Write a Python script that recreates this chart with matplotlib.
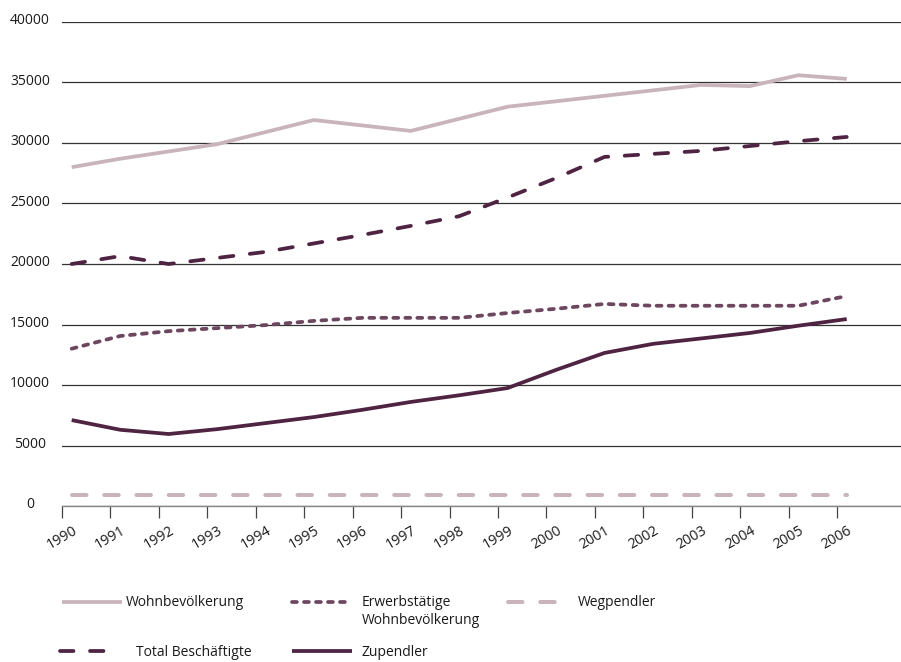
import matplotlib
matplotlib.use("Agg")
import matplotlib.pyplot as plt
from matplotlib.transforms import ScaledTranslation
import numpy as np

plt.rcParams['font.family'] = ['Open Sans', 'DejaVu Sans']

years = [str(y) for y in range(1990, 2007)]

wohnbevoelkerung = [28000, 28700, 29300, 29900, 30900, 31900, 31450, 31000, 32000,
                    33000, 33450, 33900, 34350, 34800, 34700, 35600, 35300]
total_beschaeftigte = [20000, 20650, 20000, 20500, 21000, 21700, 22400, 23150, 23950,
                       25500, 27100, 28850, 29100, 29350, 29750, 30150, 30500]
erwerbstaetige = [13000, 14050, 14450, 14700, 14950, 15300, 15550, 15550, 15550,
                  15950, 16300, 16700, 16550, 16550, 16550, 16550, 17350]
zupendler = [7100, 6300, 5950, 6350, 6850, 7350, 7950, 8600, 9150,
             9750, 11250, 12650, 13400, 13850, 14300, 14900, 15450]
wegpendler = [900] * 17

LIGHT = '#c9b4bc'
DARK = '#4f2342'
MID = '#6d4660'

W, H = 901, 662
fig = plt.figure(figsize=(W / 100, H / 100), dpi=100)
ax = fig.add_axes([62 / W, 1 - 506 / H, (W - 62) / W, 484 / H])

x = np.arange(len(years)) + 0.2

l_wohn, = ax.plot(x, wohnbevoelkerung, color=LIGHT, lw=2.7, solid_capstyle='butt',
                  label='Wohnbevölkerung')
l_erw, = ax.plot(x, erwerbstaetige, color=MID, lw=2.7, linestyle=(0, (1.3, 1.9)),
                 dash_capstyle='round', label='Erwerbstätige')
l_weg, = ax.plot(x, wegpendler, color=LIGHT, lw=2.9, linestyle=(0, (3.6, 4.4)),
                 dash_capstyle='round', label='Wegpendler')
l_tot, = ax.plot(x, total_beschaeftigte, color=DARK, lw=2.7, linestyle=(0, (3.6, 4.4)),
                 dash_capstyle='round', label='Total Beschäftigte')
l_zup, = ax.plot(x, zupendler, color=DARK, lw=2.7, solid_capstyle='butt',
                 label='Zupendler')

ax.set_xlim(0, (W - 62) / 48.44)
ax.set_ylim(0, 40000)

ax.set_yticks(np.arange(0, 40001, 5000))
ax.set_yticklabels([str(v) for v in range(0, 40001, 5000)])
ax.yaxis.grid(True, color='#333333', lw=0.9)
ax.set_axisbelow(True)
ax.tick_params(axis='y', length=0, pad=23, labelsize=10, labelcolor='#1a1a1a')
for lbl in ax.get_yticklabels():
    lbl.set_ha('center')
    lbl.set_transform(lbl.get_transform() + ScaledTranslation(0, 3 / 100, fig.dpi_scale_trans))

ax.set_xticks(np.arange(len(years)))
ax.set_xticklabels(years, rotation=30, ha='center', va='top')
ax.tick_params(axis='x', length=8.5, width=0.9, color='#444444', direction='out',
               pad=4, labelsize=10.3, labelcolor='#1a1a1a')

for s in ['top', 'right', 'left']:
    ax.spines[s].set_visible(False)
ax.spines['bottom'].set_color('#888888')
ax.spines['bottom'].set_linewidth(1.0)

# legend entries, each placed on its own
fs = 10
entries = [
    (l_wohn, 62, 603, 0.3),
    (l_erw, 292, 603, 0.72),
    (l_weg, 508, 603, 0.72),
    (l_tot, 60, 652, 1.2),
    (l_zup, 292, 652, 0.72),
]
for handle, px, py, tpad in entries:
    lg = fig.legend(handles=[handle], loc='center left',
                    bbox_to_anchor=(px / W, 1 - py / H), frameon=False,
                    fontsize=fs, handlelength=4.3, handletextpad=tpad,
                    borderpad=0, borderaxespad=0)
    for t in lg.get_texts():
        t.set_color('#1a1a1a')

# second line of the "Erwerbstätige Wohnbevölkerung" entry
fig.text(362 / W, 1 - 621 / H, 'Wohnbevölkerung', fontsize=fs, color='#1a1a1a',
         ha='left', va='center')

fig.savefig('out.png', dpi=100)
